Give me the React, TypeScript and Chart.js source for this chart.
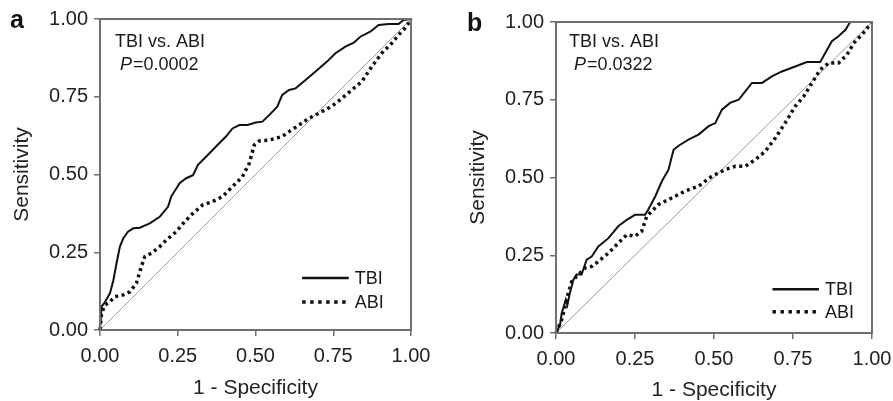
import React, { useEffect, useRef } from 'react';
import { Chart, registerables } from 'chart.js';

Chart.register(...registerables);

// ---------- data (1 - specificity, sensitivity) ----------
const tbiA_fpr = [0, 0.005, 0.016, 0.032, 0.043, 0.053, 0.064, 0.075, 0.09, 0.107, 0.128, 0.16, 0.192, 0.219, 0.229, 0.256, 0.277, 0.299, 0.315, 0.341, 0.373, 0.405, 0.426, 0.448, 0.474, 0.501, 0.522, 0.544, 0.57, 0.586, 0.608, 0.629, 0.661, 0.693, 0.73, 0.757, 0.789, 0.816, 0.837, 0.869, 0.896, 0.928, 0.96, 0.976, 1];
const tbiA_tpr = [0, 0.075, 0.09, 0.118, 0.16, 0.214, 0.268, 0.295, 0.316, 0.327, 0.329, 0.343, 0.364, 0.397, 0.429, 0.472, 0.488, 0.498, 0.531, 0.557, 0.59, 0.622, 0.648, 0.659, 0.659, 0.667, 0.67, 0.691, 0.718, 0.756, 0.772, 0.777, 0.804, 0.831, 0.863, 0.89, 0.911, 0.924, 0.943, 0.959, 0.981, 0.984, 0.984, 0.997, 1];

const abiA_fpr = [0, 0.005, 0.016, 0.032, 0.048, 0.075, 0.096, 0.117, 0.133, 0.144, 0.165, 0.192, 0.213, 0.245, 0.272, 0.299, 0.33, 0.362, 0.394, 0.426, 0.458, 0.48, 0.496, 0.512, 0.544, 0.586, 0.608, 0.64, 0.672, 0.704, 0.746, 0.778, 0.81, 0.842, 0.874, 0.906, 0.938, 0.96, 0.976, 0.992, 1];
const abiA_tpr = [0, 0.054, 0.08, 0.091, 0.107, 0.113, 0.123, 0.15, 0.204, 0.236, 0.247, 0.268, 0.289, 0.316, 0.348, 0.375, 0.402, 0.413, 0.429, 0.461, 0.493, 0.536, 0.595, 0.608, 0.611, 0.622, 0.638, 0.659, 0.681, 0.697, 0.72, 0.745, 0.772, 0.799, 0.847, 0.89, 0.922, 0.949, 0.965, 0.986, 1];

const tbiB_fpr = [0, 0.013, 0.018, 0.023, 0.031, 0.036, 0.044, 0.055, 0.065, 0.081, 0.097, 0.113, 0.134, 0.166, 0.197, 0.224, 0.25, 0.282, 0.292, 0.314, 0.335, 0.356, 0.372, 0.388, 0.419, 0.451, 0.483, 0.504, 0.525, 0.551, 0.578, 0.599, 0.62, 0.652, 0.683, 0.715, 0.757, 0.794, 0.836, 0.852, 0.873, 0.894, 0.916, 0.931, 1];
const tbiB_tpr = [0, 0.027, 0.064, 0.08, 0.107, 0.09, 0.129, 0.171, 0.188, 0.188, 0.236, 0.246, 0.278, 0.305, 0.343, 0.364, 0.38, 0.38, 0.397, 0.439, 0.488, 0.525, 0.589, 0.602, 0.622, 0.638, 0.665, 0.675, 0.718, 0.74, 0.75, 0.777, 0.804, 0.804, 0.825, 0.841, 0.857, 0.871, 0.871, 0.9, 0.938, 0.954, 0.975, 1, 1];

const abiB_fpr = [0, 0.007, 0.018, 0.029, 0.039, 0.05, 0.065, 0.092, 0.113, 0.134, 0.166, 0.197, 0.224, 0.25, 0.271, 0.287, 0.324, 0.366, 0.408, 0.451, 0.493, 0.535, 0.567, 0.599, 0.63, 0.662, 0.694, 0.725, 0.757, 0.784, 0.81, 0.836, 0.863, 0.894, 0.921, 0.942, 0.968, 1];
const abiB_tpr = [0, 0.016, 0.043, 0.086, 0.129, 0.166, 0.182, 0.209, 0.214, 0.23, 0.257, 0.289, 0.316, 0.311, 0.327, 0.375, 0.413, 0.434, 0.456, 0.472, 0.504, 0.525, 0.536, 0.536, 0.557, 0.584, 0.627, 0.675, 0.729, 0.761, 0.804, 0.847, 0.868, 0.868, 0.895, 0.932, 0.959, 1];

const tickValues = [0, 0.25, 0.5, 0.75, 1];
const seriesNames = ['TBI', 'ABI'];
const panelLetters = ['a', 'b'];
const pValues = ['0.0002', '0.0322'];
const xTitle = '1 - Specificity';
const yTitle = 'Sensitivity';
const comparisonText = 'TBI vs. ABI';

const FONT = "'Liberation Sans', Arial, Helvetica, sans-serif";

type Panel = {
  letter: string;
  pValue: string;
  tbi: { x: number; y: number }[];
  abi: { x: number; y: number }[];
  width: number;
  left: number;
  padTop: number;
  padRight: number;
  yAxisWidth: number;
  xAxisHeight: number;
  yTitlePad: number;
  xTitlePad: number;
  letterPos: [number, number];
  textOffset: [number, number];
  legend: { x0: number; x1: number; y1: number; y2: number };
};

const zip = (xs: number[], ys: number[]) => xs.map((x, i) => ({ x, y: ys[i] }));

const panels: Panel[] = [
  {
    letter: panelLetters[0],
    pValue: pValues[0],
    tbi: zip(tbiA_fpr, tbiA_tpr),
    abi: zip(abiA_fpr, abiA_tpr),
    width: 446,
    left: 0,
    padTop: 19,
    padRight: 35,
    yAxisWidth: 100,
    xAxisHeight: 71,
    yTitlePad: 9.4,
    xTitlePad: 0.4,
    letterPos: [10, 21],
    textOffset: [15, 23],
    legend: { x0: 0.65, x1: 0.8, y1: 0.167, y2: 0.09 },
  },
  {
    letter: panelLetters[1],
    pValue: pValues[1],
    tbi: zip(tbiB_fpr, tbiB_tpr),
    abi: zip(abiB_fpr, abiB_tpr),
    width: 447,
    left: 446,
    padTop: 22,
    padRight: 21,
    yAxisWidth: 110,
    xAxisHeight: 68,
    yTitlePad: 19.4,
    xTitlePad: -1.6,
    letterPos: [21, 24],
    textOffset: [13, 20],
    legend: { x0: 0.685, x1: 0.832, y1: 0.141, y2: 0.068 },
  },
];

const overlayPlugin = (p: Panel) => ({
  id: 'overlay',
  afterDraw(chart: any) {
    const { ctx, chartArea } = chart;
    const { left, right, top, bottom } = chartArea;
    const xs = chart.scales.x;
    const ys = chart.scales.y;
    ctx.save();
    // frame
    ctx.strokeStyle = '#6f6f6f';
    ctx.lineWidth = 2;
    ctx.setLineDash([]);
    ctx.strokeRect(left, top, right - left, bottom - top);

    // panel letter
    ctx.fillStyle = '#111';
    ctx.font = `bold 25px ${FONT}`;
    ctx.textBaseline = 'middle';
    ctx.textAlign = 'left';
    ctx.fillText(p.letter, p.letterPos[0], p.letterPos[1]);

    // comparison text
    const tx = left + p.textOffset[0];
    const ty = top + p.textOffset[1];
    ctx.font = `18px ${FONT}`;
    ctx.fillStyle = '#1a1a1a';
    ctx.fillText(comparisonText, tx, ty);
    ctx.font = `italic 18px ${FONT}`;
    const px = tx + 5;
    ctx.fillText('P', px, ty + 23);
    const pw = ctx.measureText('P').width;
    ctx.font = `18px ${FONT}`;
    ctx.fillText('=' + p.pValue, px + pw + 1, ty + 23);

    // legend
    const lx0 = xs.getPixelForValue(p.legend.x0);
    const lx1 = xs.getPixelForValue(p.legend.x1);
    const items = [
      { name: seriesNames[0], y: ys.getPixelForValue(p.legend.y1), dash: [] as number[], w: 2.5 },
      { name: seriesNames[1], y: ys.getPixelForValue(p.legend.y2), dash: [3.5, 4.5], w: 3.5 },
    ];
    items.forEach((it) => {
      ctx.strokeStyle = '#111';
      ctx.lineWidth = it.w;
      ctx.setLineDash(it.dash);
      ctx.beginPath();
      ctx.moveTo(lx0, it.y);
      ctx.lineTo(lx1, it.y);
      ctx.stroke();
      ctx.setLineDash([]);
      ctx.font = `18px ${FONT}`;
      ctx.fillStyle = '#1a1a1a';
      ctx.fillText(it.name, lx1 + 6, it.y + 1);
    });
    ctx.restore();
  },
});

function makeConfig(p: Panel): any {
  const tickFont = { family: FONT, size: 20 };
  const titleFont = { family: FONT, size: 21 };
  const fmt = (v: any) => Number(v).toFixed(2);
  return {
    type: 'scatter',
    data: {
      datasets: [
        {
          label: seriesNames[0],
          data: p.tbi,
          showLine: true,
          borderColor: '#111',
          borderWidth: 2,
          pointRadius: 0,
          tension: 0,
          clip: false,
        },
        {
          label: seriesNames[1],
          data: p.abi,
          showLine: true,
          borderColor: '#111',
          borderWidth: 3.5,
          borderDash: [3, 3.5],
          pointRadius: 0,
          tension: 0,
          clip: false,
        },
        {
          label: 'reference',
          data: [
            { x: 0, y: 0 },
            { x: 1, y: 1 },
          ],
          showLine: true,
          borderColor: '#9a9a9a',
          borderWidth: 1,
          pointRadius: 0,
        },
      ],
    },
    options: {
      animation: false,
      responsive: false,
      layout: { padding: { left: 0, top: p.padTop, right: p.padRight, bottom: 0 } },
      plugins: { legend: { display: false }, tooltip: { enabled: false } },
      scales: {
        x: {
          type: 'linear',
          position: 'bottom',
          min: 0,
          max: 1,
          afterBuildTicks: (s: any) => {
            s.ticks = tickValues.map((v) => ({ value: v }));
          },
          ticks: { callback: fmt, font: tickFont, color: '#222', padding: 8, maxRotation: 0, autoSkip: false },
          grid: { drawOnChartArea: false, drawTicks: true, tickLength: 6, color: '#6f6f6f', lineWidth: 1.5 },
          border: { display: false },
          title: { display: true, text: xTitle, font: titleFont, color: '#222', padding: { top: 0, bottom: p.xTitlePad } },
          afterFit: (s: any) => {
            s.height = p.xAxisHeight;
            s.paddingLeft = 0;
            s.paddingRight = 0;
          },
        },
        y: {
          type: 'linear',
          position: 'left',
          min: 0,
          max: 1,
          afterBuildTicks: (s: any) => {
            s.ticks = tickValues.map((v) => ({ value: v }));
          },
          ticks: { callback: fmt, font: tickFont, color: '#222', padding: 6, autoSkip: false },
          grid: { drawOnChartArea: false, drawTicks: true, tickLength: 6, color: '#6f6f6f', lineWidth: 1.5 },
          border: { display: false },
          title: { display: true, text: yTitle, font: titleFont, color: '#222', padding: { top: p.yTitlePad, bottom: 0 } },
          afterFit: (s: any) => {
            s.width = p.yAxisWidth;
            s.paddingTop = 0;
            s.paddingBottom = 0;
          },
        },
      },
    },
    plugins: [overlayPlugin(p)],
  };
}

function PanelChart({ p }: { p: Panel }) {
  const ref = useRef<HTMLCanvasElement | null>(null);
  useEffect(() => {
    if (!ref.current) return;
    const chart = new Chart(ref.current, makeConfig(p));
    return () => chart.destroy();
  }, [p]);
  return (
    <canvas
      ref={ref}
      width={p.width}
      height={401}
      style={{ position: 'absolute', left: p.left, top: 0, width: p.width, height: 401 }}
    />
  );
}

export default function App() {
  return (
    <div style={{ position: 'fixed', left: 0, top: 0, width: 893, height: 401, background: '#fff', overflow: 'hidden' }}>
      {panels.map((p) => (
        <PanelChart key={p.letter} p={p} />
      ))}
    </div>
  );
}
